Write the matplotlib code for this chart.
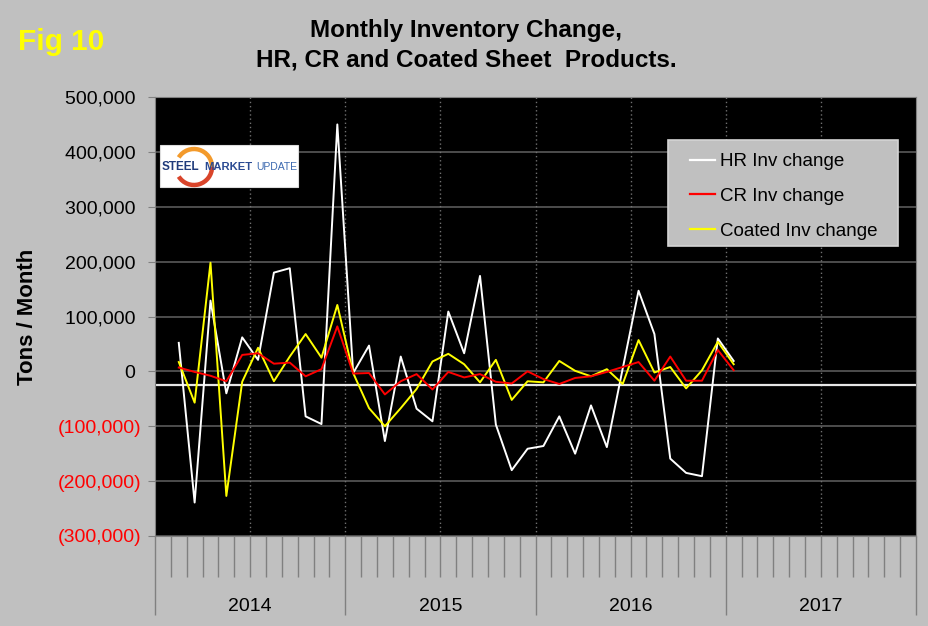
import matplotlib
matplotlib.use("Agg")
import matplotlib.pyplot as plt
import matplotlib.transforms as mtransforms
from matplotlib.patches import Rectangle, Arc
import numpy as np

# monthly data, Feb 2014 .. Jan 2017 (tons)
hr_change = [52000, -239000, 129000, -40000, 62000, 21000, 180000, 188000, -82000, -96000,
             450000, -3000, 47000, -127000, 27000, -68000, -91000, 109000, 33000, 174000,
             -97000, -180000, -141000, -136000, -82000, -150000, -62000, -138000, 5000, 147000,
             68000, -159000, -185000, -191000, 60000, 19000]
cr_change = [7000, -1000, -8000, -18000, 30000, 33000, 14000, 16000, -9000, 4000,
             82000, -4000, -3000, -42000, -18000, -5000, -33000, -1000, -11000, -5000,
             -19000, -22000, 0, -14000, -23000, -12000, -9000, -1000, 8000, 17000,
             -17000, 27000, -17000, -17000, 39000, 2000]
coated_change = [17000, -57000, 198000, -227000, -19000, 43000, -18000, 27000, 68000, 25000,
                 121000, -3000, -67000, -100000, -67000, -32000, 18000, 32000, 13000, -20000,
                 21000, -52000, -18000, -20000, 19000, 1000, -9000, 4000, -23000, 57000,
                 -2000, 8000, -31000, 2000, 54000, 13000]
years = ['2014', '2015', '2016', '2017']
first_month = 1          # Feb 2014 is month index 1
axis_cross = -25000      # where the white category axis crosses
yticks = list(range(-300000, 500001, 100000))

plt.rcParams['font.family'] = ['Liberation Sans', 'DejaVu Sans']
bg = '#C0C0C0'

fig = plt.figure(figsize=(9.29, 6.26), dpi=100, facecolor=bg)
W, H = 929, 626
ax = fig.add_axes([155 / W, 1 - 536 / H, 761 / W, 439 / H])
ax.set_facecolor('black')

x = np.arange(len(hr_change)) + first_month + 0.5
ax.set_xlim(0, 12 * len(years))
ax.set_ylim(-300000, 500000)

for v in yticks:
    ax.axhline(v, color='#5a5a5a', lw=1.2, zorder=1)
for m in range(6, 12 * len(years), 6):
    ax.axvline(m, color='#707070', lw=1, ls=(0, (1, 2)), zorder=1)
ax.axhline(axis_cross, color='#E6E6E6', lw=1.6, zorder=2)

ax.plot(x, hr_change, color='white', lw=1.4, label='HR Inv change', zorder=3)
ax.plot(x, cr_change, color='#FF0000', lw=1.4, label='CR Inv change', zorder=4)
ax.plot(x, coated_change, color='#FFFF00', lw=1.4, label='Coated Inv change', zorder=3)

# y axis labels, negatives red in parentheses
ax.set_yticks(yticks)
labs = []
for v in yticks:
    if v < 0:
        labs.append('({:,})'.format(-v))
    else:
        labs.append('{:,} '.format(v))
ax.set_yticklabels(labs, fontsize=14)
for t, v in zip(ax.get_yticklabels(), yticks):
    t.set_color('#FF0000' if v < 0 else 'black')
ax.tick_params(axis='y', direction='out', length=5, color='#808080', pad=5)

# category axis: month ticks and year groups
ax.set_xticks(range(0, 12 * len(years) + 1, 12))
ax.set_xticks(range(0, 12 * len(years) + 1), minor=True)
ax.set_xticklabels([])
ax.tick_params(axis='x', which='major', direction='out', length=57, color='#808080', width=1)
ax.tick_params(axis='x', which='minor', direction='out', length=29.5, color='#808080', width=1)
trans = mtransforms.blended_transform_factory(ax.transData, ax.transAxes)
for i, yr in enumerate(years):
    ax.text(12 * i + 6, (536 - 611) / 439, yr, transform=trans, ha='center', va='baseline',
            fontsize=14)

for s in ax.spines.values():
    s.set_color('#808080')

ax.set_ylabel('Tons / Month', fontsize=16, fontweight='bold')
ax.yaxis.set_label_coords((38 - 155) / 761, 0.5)

# legend: own frame, then entries without frame
ax.add_patch(Rectangle(((668 - 155) / 761, (536 - 246) / 439), 230 / 761, 106 / 439,
                       transform=ax.transAxes, facecolor=bg, edgecolor='#D4D4D4', lw=1.2,
                       zorder=6))
leg = ax.legend(loc='upper left', bbox_to_anchor=((690 - 155) / 761, (536 - 153) / 439),
                borderaxespad=0, fontsize=13.5, frameon=False, handlelength=1.33,
                handletextpad=0.27, labelspacing=0.94, borderpad=0)
leg.set_zorder(7)
for ln in leg.get_lines():
    ln.set_linewidth(1.6)

# titles
fig.text(466 / W, 1 - 36.7 / H, 'Monthly Inventory Change,', ha='center', va='baseline',
         fontsize=17.5, fontweight='bold')
fig.text(466 / W, 1 - 66.7 / H, 'HR, CR and Coated Sheet  Products.', ha='center',
         va='baseline', fontsize=17.5, fontweight='bold')
fig.text(18 / W, 1 - 50 / H, 'Fig 10', ha='left', va='baseline', fontsize=21.5,
         fontweight='bold', color='#FFFF00')

# logo
fig.patches.append(Rectangle((160 / W, 1 - 187 / H), 138 / W, 42 / H, transform=fig.transFigure,
                             facecolor='white', edgecolor='#DDDDDD', lw=0.8, zorder=5))
fig.patches.append(Arc((194 / W, 1 - 167 / H), 36 / W, 36 / H, theta1=0, theta2=137,
                       transform=fig.transFigure, color='#F39A2B', lw=3.2, zorder=6))
fig.patches.append(Arc((194 / W, 1 - 167 / H), 36 / W, 36 / H, theta1=-137, theta2=0,
                       transform=fig.transFigure, color='#D9442A', lw=3.2, zorder=6))
fig.text(162 / W, 1 - 169.5 / H, 'STEEL', fontsize=8.5, fontweight='bold', color='#1F3A7A',
         ha='left', va='baseline', zorder=7)
fig.text(204 / W, 1 - 169.5 / H, 'MARKET', fontsize=8.1, fontweight='bold', color='#2A4A92',
         ha='left', va='baseline', zorder=7)
fig.text(256 / W, 1 - 169.5 / H, 'UPDATE', fontsize=7.5, color='#3D6AB0',
         ha='left', va='baseline', zorder=7)

plt.savefig('out.png', dpi=100, facecolor=bg)
